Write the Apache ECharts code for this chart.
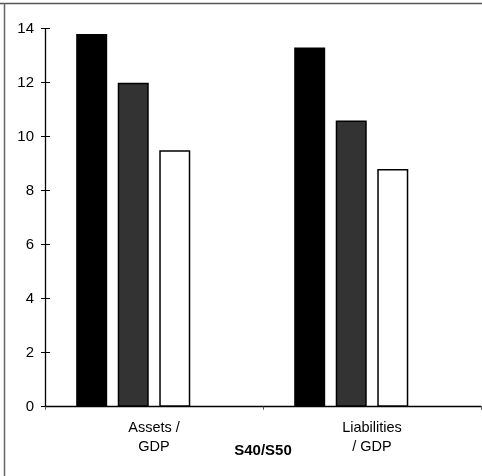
<!DOCTYPE html>
<html>
<head>
<meta charset="utf-8">
<script src="https://cdn.jsdelivr.net/npm/echarts@6/dist/echarts.min.js"></script>
<style>
  html, body { margin: 0; padding: 0; background: #fff; }
  #chart { width: 482px; height: 476px; }
</style>
</head>
<body>
<div id="chart"></div>
<script>
const categories = ['Assets /\nGDP', 'Liabilities\n/ GDP'];
const seriesBlack = [13.8, 13.3];
const seriesGrey = [12.0, 10.6];
const seriesWhite = [9.5, 8.8];
const seriesSpacer = ['-', '-'];
const yTicks = { min: 0, max: 14, interval: 2 };
const axisTitle = 'S40/S50';

const chart = echarts.init(document.getElementById('chart'), null, { renderer: 'canvas' });
const font = 'Liberation Sans, Arial, sans-serif';

chart.setOption({
  animation: false,
  backgroundColor: '#fff',
  grid: { left: 45, right: 1, top: 28.7, bottom: 69.3, containLabel: false, outerBoundsMode: 'none' },
  xAxis: {
    type: 'category',
    data: categories,
    name: axisTitle,
    nameLocation: 'middle',
    nameGap: 37,
    nameMoveOverlap: false,
    nameTextStyle: { fontFamily: font, fontSize: 15, fontWeight: 'bold', color: '#000' },
    axisLine: { lineStyle: { color: '#000', width: 1.3 } },
    axisTick: { show: true, length: 3, lineStyle: { color: '#555' } },
    axisLabel: { fontFamily: font, fontSize: 14.5, color: '#000', lineHeight: 19, margin: 12 }
  },
  yAxis: [
    {
      type: 'value', position: 'left',
      min: yTicks.min, max: yTicks.max, interval: yTicks.interval,
      axisLine: { show: true, lineStyle: { color: '#000', width: 1.3 } },
      axisTick: { show: true, length: 4, lineStyle: { color: '#000' } },
      axisLabel: { fontFamily: font, fontSize: 15, color: '#000', margin: 11 },
      splitLine: { show: false }
    },
    {
      type: 'value', position: 'left',
      min: yTicks.min, max: yTicks.max, interval: yTicks.interval,
      axisLine: { show: false },
      axisTick: { show: true, inside: true, length: 5, lineStyle: { color: '#000' } },
      axisLabel: { show: false },
      splitLine: { show: false }
    }
  ],
  series: [
    { name: 'Series A', type: 'bar', data: seriesBlack, barWidth: 31, barGap: '34%',
      itemStyle: { color: '#000', borderColor: '#000', borderWidth: 0 } },
    { name: 'Series B', type: 'bar', data: seriesGrey, barWidth: 31, barGap: '34%',
      itemStyle: { color: '#333', borderColor: '#000', borderWidth: 1.5 } },
    { name: 'Series C', type: 'bar', data: seriesWhite, barWidth: 31, barGap: '34%',
      itemStyle: { color: '#fff', borderColor: '#000', borderWidth: 1.5 } },
    { name: 'Spacer', type: 'bar', data: seriesSpacer, barWidth: 31, barGap: '34%',
      itemStyle: { color: 'transparent' } }
  ],
  graphic: [
    { type: 'line', shape: { x1: 0, y1: 3.5, x2: 482, y2: 3.5 }, style: { stroke: '#555', lineWidth: 1.5 } },
    { type: 'line', shape: { x1: 4.5, y1: 3, x2: 4.5, y2: 476 }, style: { stroke: '#666', lineWidth: 1.5 } }
  ]
});
</script>
</body>
</html>
